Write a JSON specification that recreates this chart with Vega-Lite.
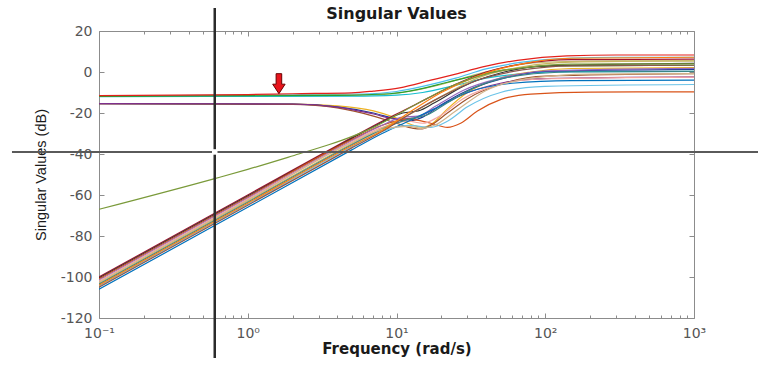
{
  "$schema": "https://vega.github.io/schema/vega-lite/v6.json",
  "width": 595,
  "height": 287,
  "autosize": {"type": "none"},
  "padding": {"left": 99, "top": 31, "right": 64, "bottom": 47},
  "background": "white",
  "config": {
    "view": {"stroke": "#8c8c8c", "strokeWidth": 1},
    "axis": {"grid": false, "domain": false, "tickColor": "#8c8c8c", "labelFont": "DejaVu Sans", "labelFontSize": 14, "labelColor": "#555555"}
  },
  "title": {"text": "Singular Values", "font": "DejaVu Sans", "fontSize": 16, "fontWeight": "bold", "color": "#1a1a1a", "offset": -15, "frame": "group"},
  "datasets": {
    "lines": [
      {"s":"A2","f":0.1,"v":-11.7},{"s":"A2","f":2,"v":-11.1},{"s":"A2","f":6,"v":-10.8},{"s":"A2","f":10,"v":-9.5},{"s":"A2","f":15,"v":-7},{"s":"A2","f":25,"v":-3},{"s":"A2","f":40,"v":1.5},{"s":"A2","f":70,"v":4.8},{"s":"A2","f":150,"v":6.8},{"s":"A2","f":300,"v":7.2},{"s":"A2","f":1000,"v":7.2},
      {"s":"A3","f":0.1,"v":-11.8},{"s":"A3","f":3,"v":-11.3},{"s":"A3","f":8,"v":-11},{"s":"A3","f":12,"v":-9.5},{"s":"A3","f":20,"v":-6},{"s":"A3","f":35,"v":-1},{"s":"A3","f":60,"v":3},{"s":"A3","f":120,"v":5},{"s":"A3","f":300,"v":5.4},{"s":"A3","f":1000,"v":5.4},
      {"s":"A4","f":0.1,"v":-12},{"s":"A4","f":5,"v":-11.8},{"s":"A4","f":10,"v":-11.3},{"s":"A4","f":15,"v":-10},{"s":"A4","f":25,"v":-6.5},{"s":"A4","f":40,"v":-3},{"s":"A4","f":70,"v":-0.8},{"s":"A4","f":150,"v":0.2},{"s":"A4","f":1000,"v":0.3},
      {"s":"A1","f":0.1,"v":-11.9},{"s":"A1","f":4,"v":-11.4},{"s":"A1","f":9,"v":-10.6},{"s":"A1","f":14,"v":-8.5},{"s":"A1","f":22,"v":-5},{"s":"A1","f":35,"v":-1.5},{"s":"A1","f":60,"v":1.5},{"s":"A1","f":120,"v":3},{"s":"A1","f":1000,"v":3.3},
      {"s":"B1","f":0.1,"v":-15.4},{"s":"B1","f":2,"v":-15.6},{"s":"B1","f":4,"v":-16.5},{"s":"B1","f":7,"v":-19},{"s":"B1","f":10,"v":-22.5},{"s":"B1","f":13,"v":-26},{"s":"B1","f":15,"v":-27},{"s":"B1","f":17.5,"v":-25},{"s":"B1","f":22,"v":-18},{"s":"B1","f":30,"v":-10},{"s":"B1","f":45,"v":-4},{"s":"B1","f":80,"v":0},{"s":"B1","f":150,"v":1.7},{"s":"B1","f":1000,"v":2.1},
      {"s":"B2","f":0.1,"v":-15.4},{"s":"B2","f":2,"v":-15.7},{"s":"B2","f":4,"v":-17},{"s":"B2","f":7,"v":-20},{"s":"B2","f":10,"v":-23},{"s":"B2","f":12,"v":-24},{"s":"B2","f":15,"v":-22},{"s":"B2","f":20,"v":-16},{"s":"B2","f":30,"v":-9},{"s":"B2","f":50,"v":-3.5},{"s":"B2","f":100,"v":0.3},{"s":"B2","f":1000,"v":1.3},
      {"s":"B3","f":0.1,"v":-15.4},{"s":"B3","f":2,"v":-15.8},{"s":"B3","f":4,"v":-17.5},{"s":"B3","f":7,"v":-21.5},{"s":"B3","f":10,"v":-25},{"s":"B3","f":13,"v":-27.5},{"s":"B3","f":14.5,"v":-27.8},{"s":"B3","f":17,"v":-26},{"s":"B3","f":22,"v":-20},{"s":"B3","f":30,"v":-13},{"s":"B3","f":50,"v":-6},{"s":"B3","f":100,"v":-2},{"s":"B3","f":1000,"v":-0.8},
      {"s":"B4","f":0.1,"v":-15.4},{"s":"B4","f":2,"v":-15.6},{"s":"B4","f":4,"v":-17.1},{"s":"B4","f":7,"v":-20.5},{"s":"B4","f":10,"v":-23},{"s":"B4","f":13,"v":-22.5},{"s":"B4","f":18,"v":-18},{"s":"B4","f":28,"v":-11},{"s":"B4","f":50,"v":-5.5},{"s":"B4","f":100,"v":-3.2},{"s":"B4","f":1000,"v":-2.4},
      {"s":"C1","f":0.1,"v":-100},{"s":"C1","f":1,"v":-60},{"s":"C1","f":5,"v":-32},{"s":"C1","f":8,"v":-24},{"s":"C1","f":11,"v":-19},{"s":"C1","f":16,"v":-13},{"s":"C1","f":25,"v":-6},{"s":"C1","f":40,"v":0},{"s":"C1","f":70,"v":4},{"s":"C1","f":150,"v":6},{"s":"C1","f":1000,"v":6.3},
      {"s":"C2","f":0.1,"v":-100.5},{"s":"C2","f":1,"v":-60.5},{"s":"C2","f":5,"v":-32.5},{"s":"C2","f":8,"v":-24.5},{"s":"C2","f":11,"v":-20},{"s":"C2","f":14,"v":-19},{"s":"C2","f":18,"v":-15},{"s":"C2","f":28,"v":-7},{"s":"C2","f":50,"v":-0.5},{"s":"C2","f":100,"v":3},{"s":"C2","f":1000,"v":4.2},
      {"s":"C3","f":0.1,"v":-101},{"s":"C3","f":1,"v":-61},{"s":"C3","f":5,"v":-33},{"s":"C3","f":8,"v":-26},{"s":"C3","f":12,"v":-23},{"s":"C3","f":17,"v":-25},{"s":"C3","f":22,"v":-27},{"s":"C3","f":27,"v":-25},{"s":"C3","f":35,"v":-19},{"s":"C3","f":50,"v":-13.5},{"s":"C3","f":80,"v":-10.8},{"s":"C3","f":200,"v":-9.8},{"s":"C3","f":1000,"v":-9.7},
      {"s":"C4","f":0.1,"v":-101.5},{"s":"C4","f":1,"v":-61.5},{"s":"C4","f":5,"v":-33.5},{"s":"C4","f":8,"v":-26},{"s":"C4","f":11,"v":-22},{"s":"C4","f":14,"v":-21.5},{"s":"C4","f":18,"v":-17},{"s":"C4","f":28,"v":-9},{"s":"C4","f":50,"v":-3},{"s":"C4","f":100,"v":0.5},{"s":"C4","f":1000,"v":1.8},
      {"s":"C5","f":0.1,"v":-102},{"s":"C5","f":1,"v":-62},{"s":"C5","f":5,"v":-34},{"s":"C5","f":8,"v":-27},{"s":"C5","f":12,"v":-24},{"s":"C5","f":15,"v":-25},{"s":"C5","f":19,"v":-22},{"s":"C5","f":28,"v":-13},{"s":"C5","f":50,"v":-6},{"s":"C5","f":100,"v":-3.3},{"s":"C5","f":1000,"v":-2.5},
      {"s":"C6","f":0.1,"v":-106},{"s":"C6","f":1,"v":-66},{"s":"C6","f":5,"v":-38},{"s":"C6","f":8,"v":-30},{"s":"C6","f":12,"v":-24},{"s":"C6","f":18,"v":-18},{"s":"C6","f":30,"v":-10},{"s":"C6","f":60,"v":-5.5},{"s":"C6","f":150,"v":-4.2},{"s":"C6","f":1000,"v":-4},
      {"s":"C7","f":0.1,"v":-104.5},{"s":"C7","f":1,"v":-64.5},{"s":"C7","f":5,"v":-36.5},{"s":"C7","f":8,"v":-29},{"s":"C7","f":12,"v":-26},{"s":"C7","f":17,"v":-27},{"s":"C7","f":22,"v":-24},{"s":"C7","f":30,"v":-17},{"s":"C7","f":50,"v":-10},{"s":"C7","f":100,"v":-7},{"s":"C7","f":1000,"v":-6.1},
      {"s":"C8","f":0.1,"v":-103},{"s":"C8","f":1,"v":-63},{"s":"C8","f":5,"v":-35},{"s":"C8","f":8,"v":-27.5},{"s":"C8","f":12,"v":-21},{"s":"C8","f":20,"v":-12},{"s":"C8","f":35,"v":-3},{"s":"C8","f":70,"v":2.5},{"s":"C8","f":150,"v":4.8},{"s":"C8","f":1000,"v":5.4},
      {"s":"C9","f":0.1,"v":-103.5},{"s":"C9","f":1,"v":-63.5},{"s":"C9","f":5,"v":-35.5},{"s":"C9","f":8,"v":-28},{"s":"C9","f":12,"v":-23},{"s":"C9","f":16,"v":-21},{"s":"C9","f":22,"v":-15},{"s":"C9","f":35,"v":-7},{"s":"C9","f":70,"v":-1.5},{"s":"C9","f":150,"v":0},{"s":"C9","f":1000,"v":0.3},
      {"s":"C10","f":0.1,"v":-102.5},{"s":"C10","f":1,"v":-62.5},{"s":"C10","f":5,"v":-34.5},{"s":"C10","f":8,"v":-28},{"s":"C10","f":12,"v":-26.5},{"s":"C10","f":15,"v":-27.5},{"s":"C10","f":18,"v":-26},{"s":"C10","f":25,"v":-19},{"s":"C10","f":40,"v":-9},{"s":"C10","f":80,"v":-3},{"s":"C10","f":200,"v":-1},{"s":"C10","f":1000,"v":-0.8},
      {"s":"C11","f":0.1,"v":-105},{"s":"C11","f":1,"v":-65},{"s":"C11","f":5,"v":-37},{"s":"C11","f":8,"v":-29},{"s":"C11","f":12,"v":-21},{"s":"C11","f":20,"v":-12},{"s":"C11","f":35,"v":-4},{"s":"C11","f":70,"v":1},{"s":"C11","f":150,"v":3},{"s":"C11","f":1000,"v":3.3},
      {"s":"C12","f":0.1,"v":-104},{"s":"C12","f":1,"v":-64},{"s":"C12","f":5,"v":-36},{"s":"C12","f":8,"v":-28.5},{"s":"C12","f":12,"v":-20},{"s":"C12","f":20,"v":-10},{"s":"C12","f":35,"v":-2},{"s":"C12","f":70,"v":4},{"s":"C12","f":150,"v":6.7},{"s":"C12","f":1000,"v":7.2},
      {"s":"D","f":0.1,"v":-67},{"s":"D","f":0.6,"v":-52},{"s":"D","f":1,"v":-47.5},{"s":"D","f":2.2,"v":-40},{"s":"D","f":3.5,"v":-35.5},{"s":"D","f":5,"v":-31.5},{"s":"D","f":7,"v":-27},{"s":"D","f":10,"v":-21},{"s":"D","f":15,"v":-14},{"s":"D","f":25,"v":-6},{"s":"D","f":40,"v":-1},{"s":"D","f":80,"v":2.5},{"s":"D","f":150,"v":3.8},{"s":"D","f":1000,"v":4},
      {"s":"A5","f":0.1,"v":-11.5},{"s":"A5","f":1,"v":-11},{"s":"A5","f":2,"v":-10.6},{"s":"A5","f":5,"v":-10.2},{"s":"A5","f":7,"v":-9.3},{"s":"A5","f":10.5,"v":-7.7},{"s":"A5","f":17,"v":-4},{"s":"A5","f":25,"v":-1},{"s":"A5","f":38,"v":2.5},{"s":"A5","f":65,"v":5.7},{"s":"A5","f":140,"v":7.9},{"s":"A5","f":300,"v":8.3},{"s":"A5","f":1000,"v":8.3}
    ],
    "vrule": [{"f": 0.6, "v1": 31.2, "v2": -139.5}],
    "hrule": [{"f1": 0.026, "f2": 3000, "v": -39}],
    "dot": [{"f": 0.6, "v": -39}],
    "arrow": [{"f": 1.62, "v": -5.7}]
  },
  "resolve": {"axis": {"x": "independent", "y": "independent"}},
  "layer": [
    {
      "data": {"name": "lines"},
      "mark": {"type": "line", "interpolate": "monotone", "strokeWidth": 1.2, "clip": true},
      "encoding": {
        "x": {"field": "f", "type": "quantitative", "scale": {"type": "log", "domain": [0.1, 1000], "nice": false},
          "axis": {"orient": "bottom", "values": [0.1, 1, 10, 100, 1000], "tickSize": -5, "labelPadding": 13, "labelFlush": false,
            "labelExpr": "datum.value < 0.5 ? '10⁻¹' : datum.value < 5 ? '10⁰' : datum.value < 50 ? '10¹' : datum.value < 500 ? '10²' : '10³'",
            "title": "Frequency (rad/s)", "titleFont": "DejaVu Sans", "titleFontSize": 15, "titleFontWeight": "bold", "titleColor": "#1a1a1a", "titlePadding": 1}},
        "y": {"field": "v", "type": "quantitative", "scale": {"domain": [-120, 20], "nice": false, "zero": false},
          "axis": {"orient": "left", "values": [-120, -100, -80, -60, -40, -20, 0, 20], "tickSize": -5, "labelPadding": 12, "labelExpr": "datum.value + ''",
            "title": "Singular Values (dB)", "titleFont": "Liberation Sans", "titleFontSize": 14.5, "titleFontWeight": "normal", "titleColor": "#1a1a1a", "titlePadding": 12}},
        "color": {"field": "s", "type": "nominal", "legend": null,
          "scale": {"domain": ["A1","A2","A3","A4","A5","B1","B2","B3","B4","C1","C2","C3","C4","C5","C6","C7","C8","C9","C10","C11","C12","D"],
            "range": ["#2CA02C","#4DBEEE","#BDB76B","#17BECF","#E3211C","#EDB120","#1F3A93","#A0522D","#7E2F8E","#A2142F","#333333","#D95319","#9467BD","#F4A6A0","#0072BD","#6BC3E8","#C8B560","#3B8686","#D2B48C","#8C564B","#FF7F0E","#7A9A3A"]}}
      }
    },
    {
      "data": {"name": "vrule"},
      "mark": {"type": "rule", "color": "#2b2b2b", "strokeWidth": 2.5},
      "encoding": {
        "x": {"field": "f", "type": "quantitative", "scale": {"type": "log", "domain": [0.1, 1000], "nice": false},
          "axis": {"orient": "top", "values": [0.1, 1, 10, 100, 1000], "tickSize": -5, "labels": false, "title": null}},
        "y": {"field": "v1", "type": "quantitative", "scale": {"domain": [-120, 20], "nice": false, "zero": false},
          "axis": {"orient": "right", "values": [-120, -100, -80, -60, -40, -20, 0, 20], "tickSize": -5, "labels": false, "title": null}},
        "y2": {"field": "v2"}
      }
    },
    {
      "data": {"name": "hrule"},
      "mark": {"type": "rule", "color": "#5a5a5a", "strokeWidth": 2},
      "encoding": {
        "x": {"field": "f1", "type": "quantitative", "scale": {"type": "log", "domain": [0.1, 1000], "nice": false},
          "axis": {"orient": "top", "values": [0.2,0.3,0.4,0.5,0.6,0.7,0.8,0.9,2,3,4,5,6,7,8,9,20,30,40,50,60,70,80,90,200,300,400,500,600,700,800,900], "tickSize": -3, "labels": false, "title": null}},
        "x2": {"field": "f2"},
        "y": {"field": "v", "type": "quantitative", "scale": {"domain": [-120, 20], "nice": false, "zero": false}, "axis": null}
      }
    },
    {
      "data": {"name": "dot"},
      "mark": {"type": "point", "shape": "square", "filled": true, "color": "white", "opacity": 1, "size": 30},
      "encoding": {
        "x": {"field": "f", "type": "quantitative", "scale": {"type": "log", "domain": [0.1, 1000], "nice": false},
          "axis": {"orient": "bottom", "values": [0.2,0.3,0.4,0.5,0.6,0.7,0.8,0.9,2,3,4,5,6,7,8,9,20,30,40,50,60,70,80,90,200,300,400,500,600,700,800,900], "tickSize": -3, "labels": false, "title": null}},
        "y": {"field": "v", "type": "quantitative", "scale": {"domain": [-120, 20], "nice": false, "zero": false}, "axis": null}
      }
    },
    {
      "data": {"name": "arrow"},
      "mark": {"type": "point", "shape": "M-0.28,-1L0.28,-1L0.28,0.05L0.62,0.05L0,1L-0.62,0.05L-0.28,0.05Z", "filled": true, "fill": "#E8141C", "stroke": "#6B0000", "strokeWidth": 1, "opacity": 1, "size": 400},
      "encoding": {
        "x": {"field": "f", "type": "quantitative", "scale": {"type": "log", "domain": [0.1, 1000], "nice": false}, "axis": null},
        "y": {"field": "v", "type": "quantitative", "scale": {"domain": [-120, 20], "nice": false, "zero": false}, "axis": null}
      }
    }
  ]
}
